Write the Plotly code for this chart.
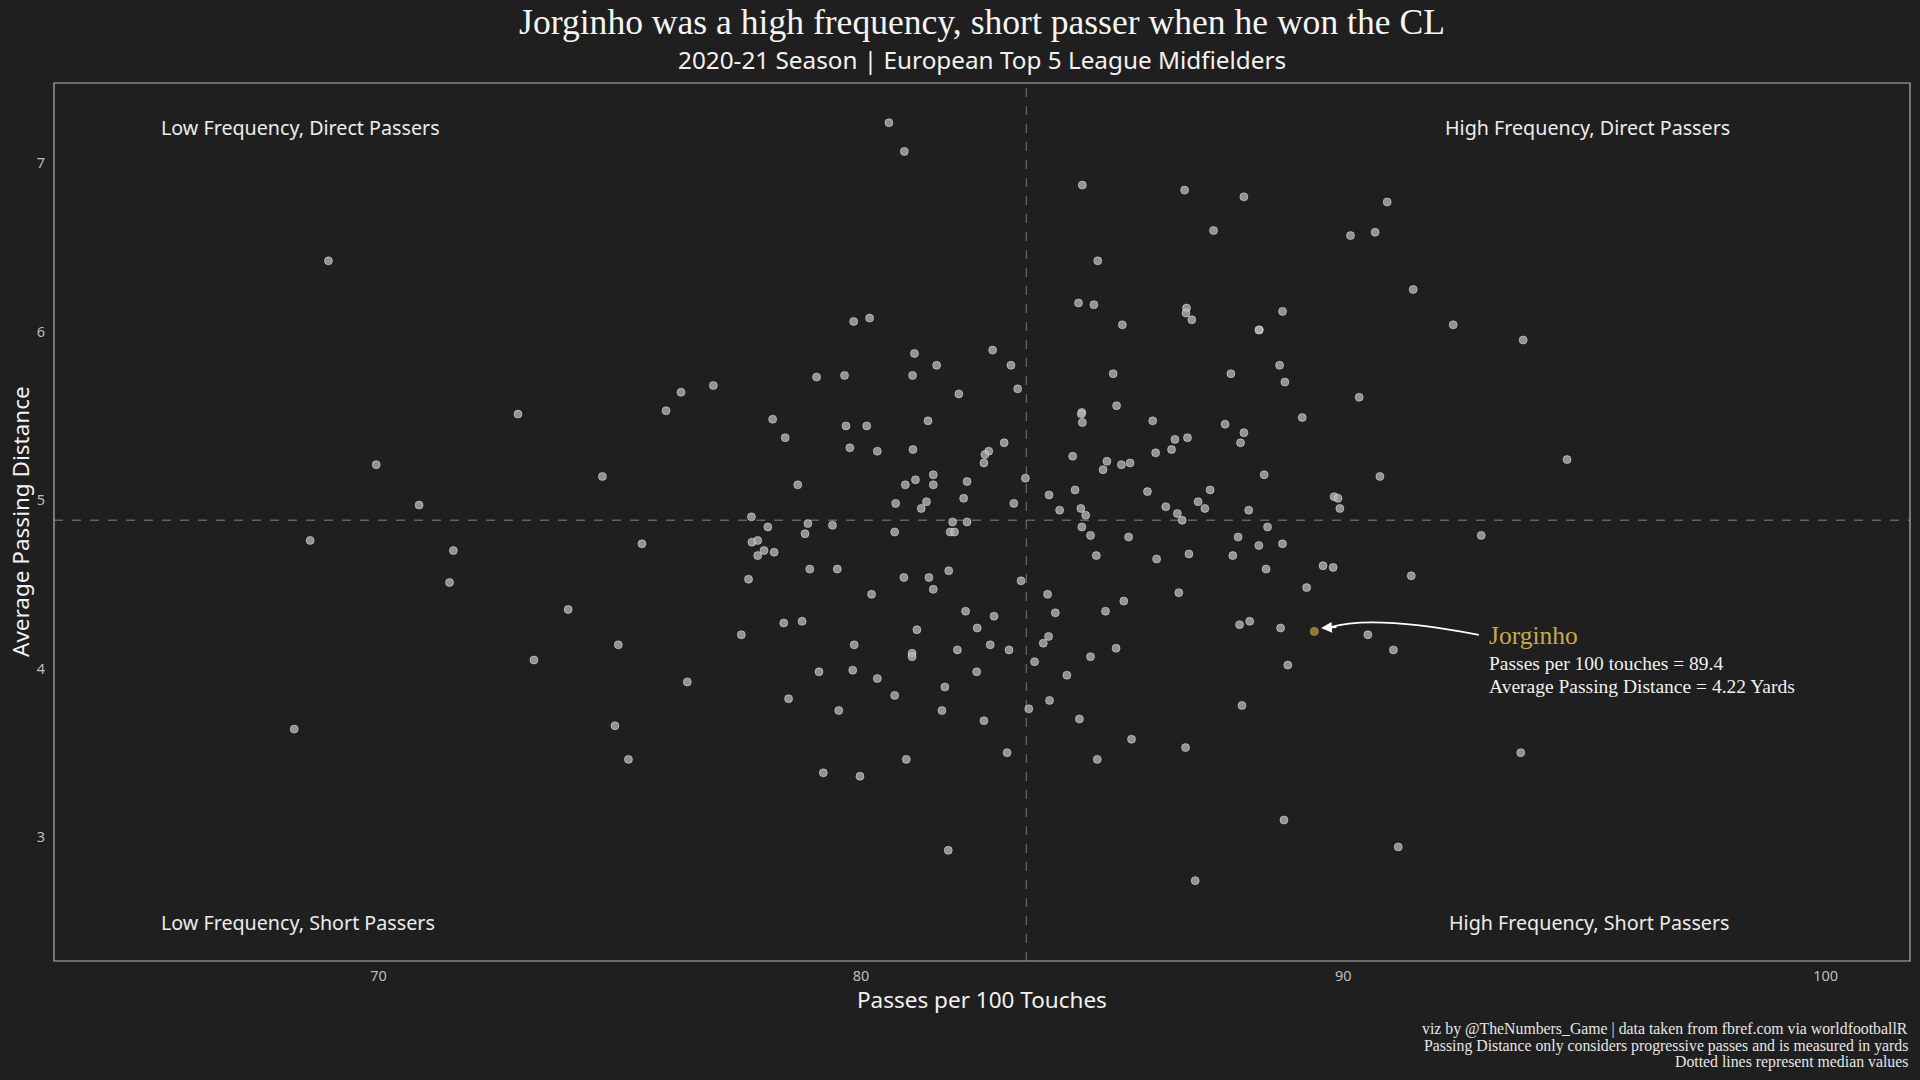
import plotly.graph_objects as go

# Each dot is one Top 5 league midfielder, 2020-21 season
passes_per_100 = [
    68.96, 68.25, 68.58, 69.95, 70.84, 71.55, 71.47, 72.89, 73.22, 73.93,
    74.64, 74.97, 74.90, 75.18, 75.46, 75.96, 76.27, 76.40, 76.94, 77.52,
    77.73, 77.67, 77.74, 77.86, 77.99, 78.20, 77.86, 78.07, 78.17, 78.43,
    78.40, 78.50, 78.69, 78.78, 78.84, 78.90, 78.94, 79.08, 79.13, 79.22,
    79.41, 79.51, 79.54, 79.66, 79.69, 79.77, 79.85, 79.86, 79.83, 79.98,
    80.12, 80.18, 80.22, 80.34, 80.34, 80.58, 80.70, 80.70, 80.72, 80.90,
    80.89, 80.92, 80.94, 81.07, 81.06, 81.06, 81.11, 81.08, 81.13, 81.16,
    81.36, 81.25, 81.39, 81.41, 81.50, 81.50, 81.50, 81.57, 81.68, 81.74,
    81.82, 81.81, 81.85, 81.90, 81.94, 82.03, 82.00, 82.13, 82.17, 82.20,
    82.20, 82.40, 82.41, 82.55, 82.65, 82.57, 82.55, 82.68, 82.73, 82.76,
    82.97, 83.07, 83.03, 83.11, 83.17, 83.25, 83.32, 83.41,
    83.48, 83.60, 83.78, 83.87, 83.89, 83.90, 83.91, 84.03, 84.12, 84.27,
    84.76, 84.39, 84.44, 84.53, 84.51, 84.56, 84.58, 84.57, 84.59, 84.59,
    84.58, 84.66, 84.76, 84.83, 84.88, 84.90, 84.91, 85.02, 85.07, 85.10,
    85.23, 85.29, 85.30, 85.40, 85.42, 85.45, 85.58, 85.55, 85.61, 85.94,
    86.05, 86.11, 86.13, 86.32, 86.44, 86.56, 86.51, 86.59, 86.66, 86.71,
    86.75, 86.73, 86.74, 86.77, 86.80, 86.86, 86.93, 86.99, 87.13, 87.24,
    87.31, 87.55, 87.67, 87.71, 87.82, 87.85, 87.87, 87.90, 87.94, 87.94,
    88.06, 88.04, 88.26, 88.25, 88.25, 88.36, 88.40, 88.43, 88.68, 88.70,
    88.74, 88.74, 88.79, 88.77, 88.85, 89.15, 89.24, 89.58, 89.79, 89.81,
    89.89, 89.93, 90.15, 90.33, 90.51, 90.66, 90.76, 90.91, 91.04, 91.14,
    91.41, 91.45, 92.28, 92.86, 93.68, 93.73, 94.64,
]
avg_pass_distance = [
    6.42, 3.64, 4.76, 5.21, 4.97, 4.70, 4.51, 5.51, 4.05, 4.35,
    5.14, 4.14, 3.66, 3.46, 4.74, 5.53, 5.64, 3.92, 5.68, 4.20,
    4.90, 4.53, 4.75, 4.76, 4.70, 4.69, 4.67, 4.84, 5.48, 5.37,
    4.27, 3.82, 5.09, 4.28, 4.80, 4.86, 4.59, 5.73, 3.98, 3.38,
    4.85, 4.59, 3.75, 5.74, 5.44, 5.31, 6.06, 4.14, 3.99, 3.36,
    5.44, 6.08, 4.44, 5.29, 3.94, 7.24, 3.84, 4.81, 4.98, 7.07,
    4.54, 5.09, 3.46, 5.74, 4.09, 4.07, 5.87, 5.30, 5.12, 4.23,
    4.99, 4.95, 5.47, 4.54, 4.47, 5.15, 5.09, 5.80, 3.75, 3.89,
    4.58, 2.92, 4.81, 4.87, 4.81, 5.63, 4.11, 5.01, 4.34, 4.87,
    5.11, 3.98, 4.24, 3.69, 5.29, 5.27, 5.22, 4.14, 5.89, 4.31,
    5.34, 4.11, 3.50, 5.80, 4.98, 5.66, 4.52, 5.13,
    3.76, 4.04, 4.15, 4.44, 4.19, 5.03, 3.81, 4.33, 4.94, 3.96,
    4.07, 5.26, 5.06, 3.70, 6.17, 4.95, 5.52, 5.51, 5.46, 6.87,
    4.84, 4.91, 4.79, 6.16, 4.67, 3.46, 6.42, 5.18, 4.34, 5.23,
    5.75, 4.12, 5.56, 5.21, 6.04, 4.40, 5.22, 4.78, 3.58, 5.05,
    5.47, 5.28, 4.65, 4.96, 5.30, 4.92, 5.36, 4.45, 4.88, 6.84,
    6.14, 3.53, 6.11, 5.37, 4.68, 6.07, 2.74, 4.99, 4.95, 5.06,
    6.60, 5.45, 5.75, 4.67, 4.78, 4.26, 5.34, 3.78, 5.40, 6.80,
    4.28, 4.94, 6.01, 6.01, 4.73, 5.15, 4.59, 4.84, 5.80, 4.24,
    4.74, 6.12, 5.70, 3.10, 4.02, 5.49, 4.48, 4.61, 4.60, 5.02,
    5.01, 4.95, 6.57, 5.61, 4.20, 6.59, 5.14, 6.77, 4.11, 2.94,
    4.55, 6.25, 6.04, 4.79, 3.50, 5.95, 5.24,
]

jorginho_passes = 89.4
jorginho_distance = 4.22

# dotted lines = medians
median_passes = 83.43
median_distance = 4.88

x_ticks = [70, 80, 90, 100]
y_ticks = [3, 4, 5, 6, 7]

caption_lines = [
    "viz by @TheNumbers_Game | data taken from fbref.com via worldfootballR",
    "Passing Distance only considers progressive passes and is measured in yards",
    "Dotted lines represent median values",
]

BG = "#1f1f1f"
SERIF = "Liberation Serif"
SANS = "Noto Sans"
GOLD = "#c9a84c"

fig = go.Figure()

fig.add_trace(go.Scatter(
    x=passes_per_100, y=avg_pass_distance, mode="markers",
    marker=dict(size=8, color="rgba(175,175,175,0.8)",
                line=dict(color="rgba(235,235,235,0.5)", width=1)),
    showlegend=False,
))
fig.add_trace(go.Scatter(
    x=[jorginho_passes], y=[jorginho_distance], mode="markers",
    marker=dict(size=8, color="rgba(140,118,52,1)",
                line=dict(color="rgba(175,150,80,0.8)", width=1)),
    showlegend=False,
))

# median lines
fig.add_shape(type="line", xref="x", yref="paper", x0=median_passes, x1=median_passes,
              y0=0, y1=1, line=dict(color="rgba(115,115,115,0.8)", width=1.3, dash="dash"),
              layer="below")
fig.add_shape(type="line", xref="paper", yref="y", x0=0, x1=1,
              y0=median_distance, y1=median_distance,
              line=dict(color="rgba(115,115,115,0.8)", width=1.3, dash="dash"), layer="below")

# panel border
fig.add_shape(type="rect", xref="paper", yref="paper", x0=0, x1=1, y0=0, y1=1,
              line=dict(color="#b5b5b5", width=1.2))

# curved arrow pointing at Jorginho
tip_x, tip_y = jorginho_passes + 0.14, jorginho_distance + 0.02
start_x, start_y = jorginho_passes + 3.41, jorginho_distance - 0.02
ctrl_x, ctrl_y = jorginho_passes + 1.2, jorginho_distance + 0.10
fig.add_shape(type="path", xref="x", yref="y",
              path=f"M {start_x},{start_y} Q {ctrl_x},{ctrl_y} {tip_x + 0.2},{tip_y + 0.005}",
              line=dict(color="white", width=1.8))
fig.add_annotation(x=tip_x, y=tip_y, ax=tip_x + 0.35, ay=tip_y + 0.006,
                   xref="x", yref="y", axref="x", ayref="y", text="",
                   showarrow=True, arrowhead=2, arrowsize=1.2, arrowwidth=1.8,
                   arrowcolor="white")

label_x = jorginho_passes + 3.59
fig.add_annotation(x=label_x, y=jorginho_distance - 0.025, xref="x", yref="y",
                   text="Jorginho", showarrow=False, xanchor="left", yanchor="middle",
                   font=dict(family=SERIF, size=25.5, color=GOLD))
fig.add_annotation(x=label_x, y=jorginho_distance - 0.19, xref="x", yref="y",
                   text=f"Passes per 100 touches = {jorginho_passes}", showarrow=False,
                   xanchor="left", yanchor="middle",
                   font=dict(family=SERIF, size=19.5, color="#f0f0f0"))
fig.add_annotation(x=label_x, y=jorginho_distance - 0.33, xref="x", yref="y",
                   text=f"Average Passing Distance = {jorginho_distance} Yards", showarrow=False,
                   xanchor="left", yanchor="middle",
                   font=dict(family=SERIF, size=19.5, color="#f0f0f0"))

# quadrant labels
quad_font = dict(family=SANS, size=19.7, color="#ececec")
fig.add_annotation(x=65.45, y=7.21, text="Low Frequency, Direct Passers", showarrow=False,
                   xanchor="left", font=quad_font)
fig.add_annotation(x=98.05, y=7.21, text="High Frequency, Direct Passers", showarrow=False,
                   xanchor="right", font=quad_font)
fig.add_annotation(x=65.45, y=2.49, text="Low Frequency, Short Passers", showarrow=False,
                   xanchor="left", font=quad_font)
fig.add_annotation(x=98.05, y=2.49, text="High Frequency, Short Passers", showarrow=False,
                   xanchor="right", font=quad_font)

# subtitle
fig.add_annotation(x=0.5, y=1, xref="paper", yref="paper", yshift=24, yanchor="middle",
                   text="2020-21 Season | European Top 5 League Midfielders", showarrow=False,
                   font=dict(family=SANS, size=24.3, color="#f2f2f2"))

# axis titles
fig.add_annotation(x=0.5, y=0, xref="paper", yref="paper", yshift=-38, yanchor="middle",
                   text="Passes per 100 Touches", showarrow=False,
                   font=dict(family=SANS, size=22.5, color="#f2f2f2"))
fig.add_annotation(x=0, y=0.5, xref="paper", yref="paper", xshift=-34, xanchor="center",
                   text="Average Passing Distance", showarrow=False, textangle=-90,
                   font=dict(family=SANS, size=22.5, color="#f2f2f2"))

# caption
for i, line in enumerate(caption_lines):
    fig.add_annotation(x=1, y=0, xref="paper", yref="paper", xanchor="right", yanchor="middle",
                       yshift=-68 - 16.5 * i, text=line, showarrow=False,
                       font=dict(family=SERIF, size=15.8, color="#e6e6e6"))

fig.update_layout(
    width=1920, height=1080, autosize=False,
    paper_bgcolor=BG, plot_bgcolor=BG,
    margin=dict(l=54, r=10, t=83, b=119),
    title=dict(text="Jorginho was a high frequency, short passer when he won the CL",
               x=0.5, xref="paper", y=1 - 22 / 1080, yanchor="middle",
               font=dict(family=SERIF, size=35.6, color="#f5f5f5")),
    xaxis=dict(range=[63.27, 101.75], tickvals=x_ticks, showgrid=False, zeroline=False,
               showline=False, ticks="", ticklabelstandoff=4,
               tickfont=dict(family=SANS, size=14.5, color="#bdbdbd")),
    yaxis=dict(range=[2.263, 7.476], tickvals=y_ticks, showgrid=False, zeroline=False,
               showline=False, ticks="", ticklabelstandoff=8,
               tickfont=dict(family=SANS, size=14.5, color="#bdbdbd")),
    hovermode="closest",
)

# page margin off so the dark figure fills the window
fig.write_html("out.html", config={"displayModeBar": False},
               post_script="document.body.style.margin='0';document.body.style.background='#1f1f1f';")
